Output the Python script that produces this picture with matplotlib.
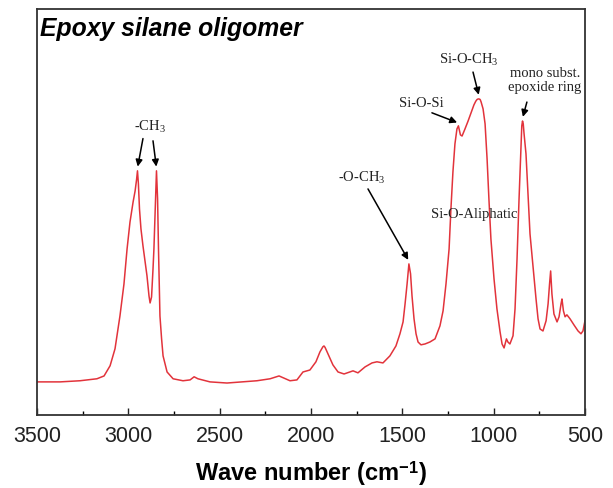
import matplotlib
matplotlib.use('Agg')
import matplotlib.pyplot as plt
import numpy as np

plt.rcParams['mathtext.fontset'] = 'custom'
plt.rcParams['mathtext.rm'] = 'Liberation Serif'
plt.rcParams['mathtext.it'] = 'Liberation Serif:italic'
plt.rcParams['mathtext.bf'] = 'Liberation Sans:bold'

# FTIR spectrum (wavenumber in cm-1, absorbance in a.u.)
wavenumber = [3500, 3374, 3265, 3172, 3133, 3100, 3073, 3046, 3024, 3007,
              2991, 2974, 2963, 2955, 2950, 2945, 2939, 2931, 2920, 2909, 2898, 2887,
              2881, 2873, 2865, 2860, 2851, 2846, 2840, 2835, 2827, 2818,
              2810, 2788, 2755, 2701, 2662, 2640, 2619, 2553, 2460, 2296,
              2224, 2175, 2115, 2077, 2044, 2006, 1973, 1951, 1935, 1929, 1923, 1907,
              1880, 1852, 1819, 1787, 1770, 1743, 1704, 1666, 1639, 1606,
              1568, 1535, 1513, 1496, 1485, 1474, 1464, 1455, 1447, 1436,
              1425, 1414, 1398, 1376, 1349, 1321, 1294, 1277, 1261, 1244,
              1234, 1223, 1212, 1201, 1193, 1182, 1173, 1157, 1140, 1124,
              1108, 1098, 1091, 1085, 1080, 1074, 1069, 1058, 1047, 1036, 1026, 1015, 998,
              982, 965, 954, 943, 930, 922, 911, 894, 883, 872,
              861, 850, 846, 842, 838, 834, 823, 812, 801, 785, 768, 757,
              746, 730, 713, 702, 694, 688, 681, 670, 653, 642,
              631, 626, 618, 609, 599, 582, 560, 538, 522, 511, 500]
absorbance = [0.000, 0.000, 0.004, 0.011, 0.021, 0.057, 0.117, 0.233, 0.346, 0.470,
              0.565, 0.636, 0.675, 0.715, 0.746, 0.700, 0.611, 0.541, 0.481, 0.428, 0.375, 0.304,
              0.279, 0.300, 0.399, 0.470, 0.647, 0.746, 0.647, 0.470, 0.233, 0.152,
              0.092, 0.035, 0.011, 0.004, 0.007, 0.018, 0.011, 0.000, -0.004, 0.004,
              0.011, 0.021, 0.004, 0.007, 0.035, 0.042, 0.071, 0.106, 0.124, 0.127, 0.122, 0.099,
              0.060, 0.035, 0.028, 0.035, 0.039, 0.032, 0.053, 0.067, 0.071, 0.067,
              0.092, 0.127, 0.170, 0.212, 0.276, 0.346, 0.417, 0.382, 0.304, 0.223,
              0.170, 0.141, 0.131, 0.134, 0.141, 0.152, 0.198, 0.251, 0.346, 0.470,
              0.611, 0.742, 0.841, 0.894, 0.905, 0.873, 0.869, 0.894, 0.922, 0.951,
              0.979, 0.992, 0.998, 1.000, 1.000, 0.998, 0.990, 0.965, 0.912, 0.788, 0.647, 0.505, 0.364,
              0.258, 0.177, 0.134, 0.120, 0.152, 0.141, 0.134, 0.163, 0.258, 0.435,
              0.647, 0.841, 0.905, 0.922, 0.912, 0.880, 0.806, 0.664, 0.523, 0.410, 0.293, 0.223,
              0.187, 0.180, 0.216, 0.276, 0.346, 0.392, 0.311, 0.240, 0.212, 0.230,
              0.276, 0.293, 0.251, 0.230, 0.237, 0.223, 0.201, 0.180, 0.170, 0.180, 0.216]

x_ticks = [3500, 3000, 2500, 2000, 1500, 1000, 500]

# band labels: (text, peak position, label position, arrow tail)
bands = [
    ('-CH$_3$', 2950, (2881, 0.905), (2920, 0.86)),
    (None, 2846, None, (2865, 0.852)),
    ('-O-CH$_3$', 1464, (1721, 0.724), (1688, 0.682)),
    ('Si-O-Si', 1193, (1398, 0.989), (1338, 0.951)),
    ('Si-O-CH$_3$', 1080, (1135, 1.141), (1113, 1.095)),
    ('mono subst.\nepoxide ring', 842, (719, 1.067), (818, 0.989)),
]

fig = plt.figure(figsize=(6.13, 4.89), dpi=100)
ax = fig.add_axes([0.0604, 0.1493, 0.8939, 0.8303])

ax.plot(wavenumber, absorbance, color='#e2333b', lw=1.1)

ax.set_xlim(3500, 500)
ax.set_ylim(-0.117, 1.318)
ax.set_xticks(x_ticks)
ax.set_xticks(np.arange(3250, 500, -500), minor=True)
ax.set_xticklabels([str(t) for t in x_ticks], fontsize=15.5, family='Liberation Sans')
ax.tick_params(axis='x', which='major', direction='in', length=5, width=1, pad=7, colors='#222222')
ax.tick_params(axis='x', which='minor', direction='in', length=3, width=1)
ax.set_yticks([])
for s in ax.spines.values():
    s.set_color('#333333')
    s.set_linewidth(1.3)

ax.set_xlabel('Wave number (cm$^{\\mathbf{-1}}$)', fontsize=17, fontweight='bold',
              family='Liberation Sans', labelpad=9)

ax.text(0.005, 0.952, 'Epoxy silane oligomer', transform=ax.transAxes,
        fontsize=17.8, fontweight='bold', fontstyle='italic',
        family='Liberation Sans', va='center', ha='left')

serif = dict(fontsize=10.5, family='Liberation Serif', color='#222222')
arrow = dict(arrowstyle='-|>', color='black', lw=1.1, mutation_scale=10,
             shrinkA=0, shrinkB=1)

wn = np.array(wavenumber)
ab = np.array(absorbance)
for text, peak, pos, tail in bands:
    i = np.argmin(np.abs(wn - peak))
    ax.annotate('', xy=(wn[i], ab[i] + 0.01), xytext=tail, arrowprops=arrow)
    if text:
        ax.text(pos[0], pos[1], text, ha='center', va='center',
                linespacing=1.1, **serif)

ax.text(1108, 0.594, 'Si-O-Aliphatic', ha='center', va='center', **serif)

fig.savefig('out.png', dpi=100)
